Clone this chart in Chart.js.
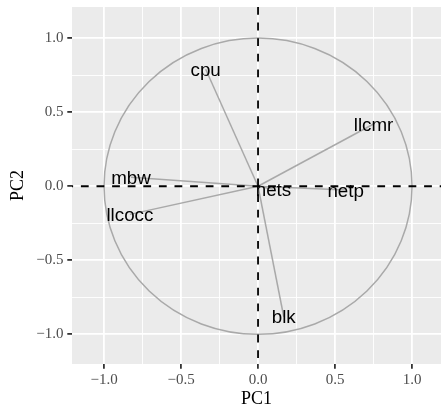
<!DOCTYPE html>
<html>
<head>
<meta charset="utf-8">
<script src="https://cdn.jsdelivr.net/npm/chart.js@4/dist/chart.umd.min.js"></script>
<style>
  html, body { margin: 0; padding: 0; background: #ffffff; }
  canvas { display: block; }
</style>
</head>
<body>
<canvas id="pca" width="441" height="410"></canvas>
<script>
// Variable loadings on the first two principal components
const variables = ['cpu', 'llcmr', 'mbw', 'llcocc', 'netp', 'nets', 'blk'];
const pc1 = [-0.34, 0.75, -0.825, -0.832, 0.569, 0.10, 0.167];
const pc2 = [0.79, 0.42, 0.06, -0.19, -0.026, -0.021, -0.881];

// Axis ticks
const majorTicks = [-1, -0.5, 0, 0.5, 1];
const minorTicks = [-0.75, -0.25, 0.25, 0.75];
const tickLabels = ['\u22121.0', '\u22120.5', '0.0', '0.5', '1.0'];
const xLimits = [-1.208, 1.188];
const yLimits = [-1.2, 1.21];
const circleRadius = 1;

const PANEL_BG = '#ebebeb';
const ARROW_COLOR = '#a9a9a9';
const LABEL_FONT_SIZE = 18.8;

const allTicks = majorTicks.concat(minorTicks).sort((a, b) => a - b);
const isMajor = v => majorTicks.some(m => Math.abs(m - v) < 1e-9);
const tickText = v => {
  const i = majorTicks.findIndex(m => Math.abs(m - v) < 1e-9);
  return i >= 0 ? tickLabels[i] : '';
};

function axisOptions(limits, titleText, fitFn, titlePadding) {
  return {
    type: 'linear',
    min: limits[0],
    max: limits[1],
    bounds: 'data',
    afterBuildTicks: scale => { scale.ticks = allTicks.map(v => ({ value: v })); },
    afterFit: fitFn,
    border: { display: false },
    grid: {
      color: '#ffffff',
      lineWidth: ctx => (ctx.tick && isMajor(ctx.tick.value)) ? 1.8 : 0.9,
      drawTicks: true,
      tickLength: 4.7,
      tickWidth: 1.8,
      tickColor: ctx => (ctx.tick && isMajor(ctx.tick.value)) ? '#333333' : 'rgba(0,0,0,0)'
    },
    ticks: {
      autoSkip: false,
      maxRotation: 0,
      minRotation: 0,
      padding: 3.8,
      color: '#4d4d4d',
      font: { family: '"Liberation Serif", "Times New Roman", serif', size: 15, lineHeight: 1 },
      callback: value => tickText(value)
    },
    title: {
      display: true,
      text: titleText,
      color: '#000000',
      font: { family: '"Liberation Serif", "Times New Roman", serif', size: 18, lineHeight: 1 },
      padding: titlePadding
    }
  };
}

// Fixed axis sizes, with no extra room reserved for overhanging tick labels
function fitX(s) {
  s.height = 46;
  s.paddingLeft = 0; s.paddingRight = 0; s.paddingTop = 0; s.paddingBottom = 0;
}
function fitY(s) {
  s.width = 72;
  s.paddingLeft = 0; s.paddingRight = 0; s.paddingTop = 0; s.paddingBottom = 0;
}

// Panel background
const panelBackground = {
  id: 'panelBackground',
  beforeDraw(chart) {
    const { ctx, chartArea: a } = chart;
    ctx.save();
    ctx.fillStyle = '#ffffff';
    ctx.fillRect(0, 0, chart.width, chart.height);
    ctx.fillStyle = PANEL_BG;
    ctx.fillRect(a.left, a.top, a.right - a.left, a.bottom - a.top);
    ctx.restore();
  }
};

// Correlation circle, drawn in data units through the scales
const correlationCircle = {
  id: 'correlationCircle',
  beforeDatasetsDraw(chart) {
    const { ctx, chartArea: a } = chart;
    const xs = chart.scales.x, ys = chart.scales.y;
    const cx = xs.getPixelForValue(0), cy = ys.getPixelForValue(0);
    const rx = xs.getPixelForValue(circleRadius) - cx;
    const ry = cy - ys.getPixelForValue(circleRadius);
    ctx.save();
    ctx.beginPath();
    ctx.rect(a.left, a.top, a.right - a.left, a.bottom - a.top);
    ctx.clip();
    ctx.beginPath();
    ctx.ellipse(cx, cy, rx, ry, 0, 0, Math.PI * 2);
    ctx.strokeStyle = ARROW_COLOR;
    ctx.lineWidth = 1.5;
    ctx.stroke();
    ctx.restore();
  }
};

// Variable names at loading positions, then the dashed zero lines
const labelsAndAxes = {
  id: 'labelsAndAxes',
  afterDatasetsDraw(chart) {
    const { ctx, chartArea: a } = chart;
    const xs = chart.scales.x, ys = chart.scales.y;
    ctx.save();
    ctx.beginPath();
    ctx.rect(a.left, a.top, a.right - a.left, a.bottom - a.top);
    ctx.clip();

    ctx.fillStyle = '#000000';
    ctx.font = LABEL_FONT_SIZE + 'px "Liberation Sans", Arial, sans-serif';
    ctx.textAlign = 'center';
    ctx.textBaseline = 'alphabetic';
    variables.forEach((name, i) => {
      const px = xs.getPixelForValue(pc1[i]);
      const py = ys.getPixelForValue(pc2[i]);
      ctx.fillText(name, px, py + 0.358 * LABEL_FONT_SIZE);
    });

    const x0 = xs.getPixelForValue(0);
    const y0 = ys.getPixelForValue(0);
    ctx.strokeStyle = '#000000';
    ctx.lineWidth = 1.8;
    ctx.setLineDash([7.8, 7.8]);
    ctx.lineDashOffset = 0;
    ctx.beginPath();
    ctx.moveTo(x0, a.top);
    ctx.lineTo(x0, a.bottom);
    ctx.stroke();
    ctx.lineDashOffset = 6.7;
    ctx.beginPath();
    ctx.moveTo(a.left, y0);
    ctx.lineTo(a.right, y0);
    ctx.stroke();
    ctx.restore();
  }
};

const datasets = variables.map((name, i) => ({
  label: name,
  data: [{ x: 0, y: 0 }, { x: pc1[i], y: pc2[i] }],
  showLine: true,
  borderColor: ARROW_COLOR,
  borderWidth: 1.5,
  pointRadius: 0,
  pointHoverRadius: 0,
  fill: false
}));

new Chart(document.getElementById('pca'), {
  type: 'scatter',
  data: { datasets },
  options: {
    responsive: false,
    devicePixelRatio: 1,
    animation: false,
    events: [],
    layout: { padding: { top: 7, right: 0, bottom: 0, left: 0 } },
    plugins: {
      legend: { display: false },
      tooltip: { enabled: false }
    },
    scales: {
      x: axisOptions(xLimits, 'PC1', fitX, { top: 0, bottom: 2 }),
      y: axisOptions(yLimits, 'PC2', fitY, { top: 9, bottom: 0 })
    }
  },
  plugins: [panelBackground, correlationCircle, labelsAndAxes]
});
</script>
</body>
</html>
